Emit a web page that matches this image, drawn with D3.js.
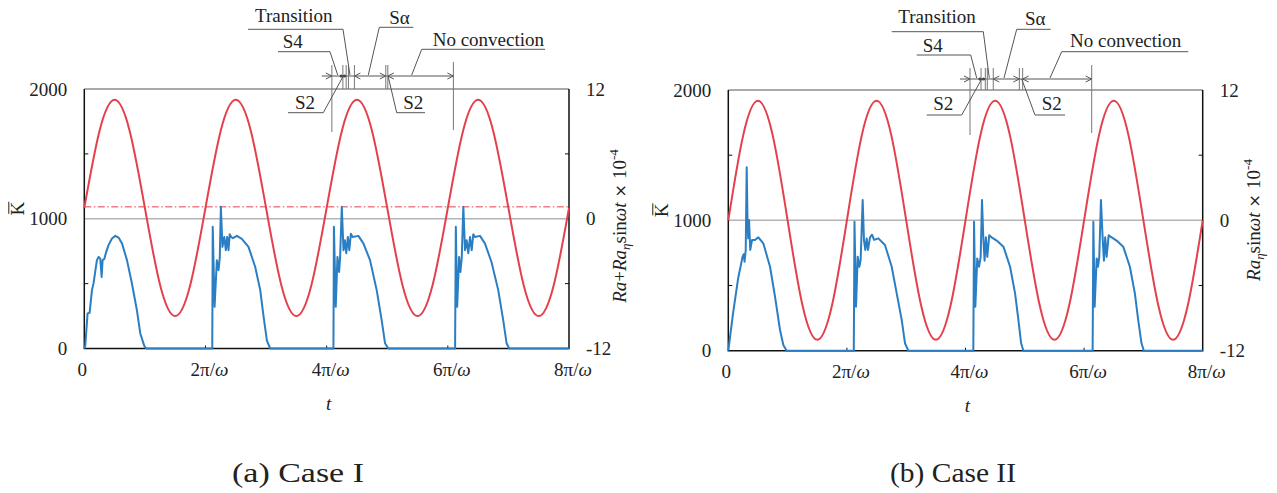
<!DOCTYPE html>
<html>
<head>
<meta charset="utf-8">
<script src="https://cdn.jsdelivr.net/npm/d3@7"></script>
<style>
body { margin: 0; background: #fff; }
svg { display: block; }
svg text { font-family: 'Liberation Serif', 'Times New Roman', 'DejaVu Serif', serif; }
</style>
</head>
<body>
<div id="container"></div>
<script>
// time is in units of the forcing period 2π/ω
const xTicks = [0, 1, 2, 3, 4];
const xTickLabels = ['0', '2π/', '4π/', '6π/', '8π/'];
const kTicks = [0, 1000, 2000];
const kMinor = [500, 1500];
const raTicks = [-12, 0, 12];
const raMinor = [-6, 6];

// Ra + Ra_eta sin(wt), x 1e-4, sampled every 1/8 period
const redCaseI = [1.0, 8.1, 11.0, 8.1, 1.0, -6.1, -9.0, -6.1,
                  1.0, 8.1, 11.0, 8.1, 1.0, -6.1, -9.0, -6.1,
                  1.0, 8.1, 11.0, 8.1, 1.0, -6.1, -9.0, -6.1,
                  1.0, 8.1, 11.0, 8.1, 1.0, -6.1, -9.0, -6.1, 1.0];
const redCaseII = [0, 7.8, 11.0, 7.8, 0, -7.8, -11.0, -7.8,
                   0, 7.8, 11.0, 7.8, 0, -7.8, -11.0, -7.8,
                   0, 7.8, 11.0, 7.8, 0, -7.8, -11.0, -7.8,
                   0, 7.8, 11.0, 7.8, 0, -7.8, -11.0, -7.8, 0];
const dashCaseI = 1.1;

// K-bar, [t, K]
const blueCaseI = [
  [0,0],[0.008,20],[0.027,270],[0.044,275],[0.063,450],[0.076,500],[0.104,681],[0.118,706],
  [0.132,690],[0.143,552],[0.151,681],[0.165,690],[0.181,745],[0.2,797],[0.228,848],[0.256,868],
  [0.283,855],[0.311,810],[0.352,681],[0.393,501],[0.434,295],[0.462,116],[0.495,20],[0.511,0],
  [1.056,0],[1.060,938],[1.075,321],[1.094,681],[1.108,604],[1.118,700],[1.127,1092],[1.14,783],
  [1.155,860],[1.168,758],[1.179,860],[1.19,758],[1.2,880],[1.213,860],[1.226,850],[1.259,868],
  [1.3,845],[1.355,783],[1.41,630],[1.452,450],[1.479,250],[1.507,60],[1.534,0],
  [2.056,0],[2.06,938],[2.075,321],[2.089,706],[2.103,590],[2.111,700],[2.125,1092],[2.139,758],
  [2.15,835],[2.162,735],[2.175,860],[2.187,758],[2.2,885],[2.213,860],[2.262,868],[2.303,810],
  [2.358,681],[2.413,450],[2.454,219],[2.482,40],[2.509,0],
  [3.06,0],[3.066,938],[3.077,321],[3.093,706],[3.104,590],[3.115,700],[3.128,1092],[3.142,758],
  [3.155,835],[3.169,735],[3.183,860],[3.197,758],[3.21,880],[3.224,860],[3.265,868],[3.306,810],
  [3.361,665],[3.416,450],[3.457,219],[3.485,40],[3.507,0],
  [4,0]
];
const blueCaseII = [
  [0,0],[0.042,300],[0.084,560],[0.12,720],[0.13,740],[0.137,683],[0.147,773],[0.155,1407],
  [0.162,1003],[0.168,862],[0.175,1003],[0.185,773],[0.2,849],[0.225,849],[0.253,870],[0.295,824],
  [0.352,644],[0.394,414],[0.436,159],[0.464,44],[0.492,0],
  [1.058,0],[1.064,990],[1.077,338],[1.091,721],[1.105,644],[1.116,700],[1.133,1156],[1.144,849],
  [1.155,773],[1.167,860],[1.178,773],[1.195,870],[1.212,890],[1.229,850],[1.265,862],[1.321,811],
  [1.378,644],[1.42,440],[1.462,236],[1.49,57],[1.518,0],
  [2.066,0],[2.072,990],[2.083,338],[2.099,708],[2.114,644],[2.128,720],[2.139,1156],[2.15,870],
  [2.161,690],[2.172,870],[2.184,720],[2.2,885],[2.22,870],[2.263,845],[2.32,798],[2.376,644],
  [2.418,440],[2.446,236],[2.469,57],[2.488,0],
  [3.072,0],[3.078,990],[3.089,338],[3.106,708],[3.117,644],[3.128,720],[3.142,1156],[3.156,870],
  [3.167,690],[3.178,870],[3.19,720],[3.207,885],[3.232,870],[3.274,845],[3.33,798],[3.386,644],
  [3.428,440],[3.456,236],[3.484,57],[3.504,0],
  [4,0]
];

// regime boundaries (t) for the annotation above each plot
const phasesCaseI = { start: 1.960, long: [2.043, 3.046], short: [2.134, 2.161, 2.180, 2.229, 2.488, 2.505], dots: [2.12, 2.147] };
const phasesCaseII = { start: 1.953, long: [2.038, 3.064], short: [2.131, 2.167, 2.184, 2.234, 2.454, 2.482], dots: [2.122, 2.152] };

const RED = '#e4404c';
const BLUE = '#2a7ec3';
const INK = '#222';
const SERIF = "'Liberation Serif', 'Times New Roman', 'DejaVu Serif', serif";

const svg = d3.select('#container').append('svg')
    .attr('width', 1277)
    .attr('height', 493)
    .attr('font-family', SERIF);

function label(sel) {
    return sel.append('text').attr('font-family', SERIF).attr('font-size', 19).attr('fill', INK);
}

function drawPanel(p) {
    const x = d3.scaleLinear().domain([0, 4]).range([p.left, p.right]);
    const yK = d3.scaleLinear().domain([0, 2000]).range([p.bottom, p.top]);
    const yR = d3.scaleLinear().domain([-12, 12]).range([p.bottom, p.top]);
    const g = svg.append('g');

    // gray line at K = 1000
    g.append('line')
        .attr('x1', p.left).attr('x2', p.right)
        .attr('y1', yK(1000)).attr('y2', yK(1000))
        .attr('stroke', '#b4b4b4').attr('stroke-width', 1.5);

    if (p.dash != null) {
        g.append('line')
            .attr('x1', p.left).attr('x2', p.right)
            .attr('y1', yR(p.dash)).attr('y2', yR(p.dash))
            .attr('stroke', RED).attr('stroke-width', 1)
            .attr('stroke-dasharray', '7,2.5,1.5,2.5');
    }

    // frame
    g.append('line').attr('x1', p.left).attr('x2', p.right).attr('y1', p.top).attr('y2', p.top)
        .attr('stroke', '#555').attr('stroke-width', 1);
    const axes = d3.path();
    axes.moveTo(p.left, p.top); axes.lineTo(p.left, p.bottom); axes.lineTo(p.right, p.bottom); axes.lineTo(p.right, p.top);
    g.append('path').attr('d', axes.toString()).attr('fill', 'none').attr('stroke', '#111').attr('stroke-width', 1.5);

    // inward ticks
    kMinor.forEach(v => g.append('line').attr('x1', p.left).attr('x2', p.left + 4)
        .attr('y1', yK(v)).attr('y2', yK(v)).attr('stroke', '#111'));
    raMinor.forEach(v => g.append('line').attr('x1', p.right).attr('x2', p.right - 4)
        .attr('y1', yR(v)).attr('y2', yR(v)).attr('stroke', '#111'));
    xTicks.slice(1, 4).forEach(v => g.append('line').attr('x1', x(v)).attr('x2', x(v))
        .attr('y1', p.bottom).attr('y2', p.bottom - 3).attr('stroke', '#111'));

    // curves
    const redLine = d3.line()
        .x((d, i) => x(i / 8))
        .y(d => yR(d))
        .curve(d3.curveNatural);
    g.append('path').attr('d', redLine(p.red))
        .attr('fill', 'none').attr('stroke', RED).attr('stroke-width', 2);

    const blueLine = d3.line()
        .x(d => x(d[0]))
        .y(d => yK(d[1]));
    g.append('path').attr('d', blueLine(p.blue))
        .attr('fill', 'none').attr('stroke', BLUE).attr('stroke-width', 2)
        .attr('stroke-linejoin', 'round');

    // tick labels
    kTicks.forEach(v => label(g)
        .attr('x', p.left - 17).attr('y', yK(v)).attr('dy', '0.35em')
        .attr('text-anchor', 'end').text(v));
    raTicks.forEach(v => label(g)
        .attr('x', p.right + 17).attr('y', yR(v)).attr('dy', '0.35em').text(v));
    xTicks.forEach((v, i) => {
        const t = label(g)
            .attr('x', x(v) + (i === 0 ? -2 : 4)).attr('y', p.bottom + 14).attr('dy', '0.7em')
            .attr('text-anchor', 'middle');
        t.append('tspan').text(xTickLabels[i]);
        if (i > 0) t.append('tspan').attr('font-style', 'italic').text('ω');
    });

    // axis titles
    label(g).attr('x', (p.left + p.right) / 2 + 2).attr('y', p.bottom + 61)
        .attr('text-anchor', 'middle').attr('font-style', 'italic').text('t');

    const kt = g.append('g').attr('transform', `translate(${p.left - 60},${yK(1000) - 10}) rotate(-90)`);
    label(kt).attr('text-anchor', 'middle').text('K');
    kt.append('line').attr('x1', -5).attr('x2', 7).attr('y1', -15.5).attr('y2', -15.5)
        .attr('stroke', INK).attr('stroke-width', 1);

    const rt = label(g)
        .attr('transform', `translate(${p.right + 57},${p.rLabelY}) rotate(-90)`)
        .attr('text-anchor', 'middle');
    if (p.withRa) {
        rt.append('tspan').attr('font-style', 'italic').text('Ra');
        rt.append('tspan').text('+');
    }
    rt.append('tspan').attr('font-style', 'italic').text('Ra');
    rt.append('tspan').attr('font-style', 'italic').attr('font-size', 13).attr('dy', 4).text('η');
    rt.append('tspan').attr('dy', -4).text('sin');
    rt.append('tspan').attr('font-style', 'italic').text('ωt');
    rt.append('tspan').attr('font-family', 'DejaVu Sans').attr('font-size', 16).text(' × ');
    rt.append('tspan').text('10');
    rt.append('tspan').attr('font-size', 13).attr('dy', -8).text('-4');

    // regime annotation
    const a = g.append('g').attr('stroke', '#555').attr('fill', 'none').attr('stroke-width', 1);
    const ay = p.arrowY;
    a.append('line').attr('x1', x(p.phases.start)).attr('x2', x(p.phases.long[1]))
        .attr('y1', ay).attr('y2', ay);
    a.append('line').attr('x1', x(p.phases.long[0])).attr('x2', x(p.phases.long[0]))
        .attr('y1', ay - 11).attr('y2', ay + 56).attr('stroke', '#777');
    a.append('line').attr('x1', x(p.phases.long[1])).attr('x2', x(p.phases.long[1]))
        .attr('y1', ay - 14).attr('y2', ay + 54).attr('stroke', '#777');
    p.phases.short.forEach(v => a.append('line').attr('x1', x(v)).attr('x2', x(v))
        .attr('y1', ay - 11).attr('y2', p.top).attr('stroke', '#777'));
    p.phases.dots.forEach(v => g.append('circle').attr('cx', x(v)).attr('cy', ay)
        .attr('r', 1.6).attr('fill', '#444'));
    const heads = [[p.phases.long[0], 1], [p.phases.short[3], -1], [p.phases.short[4], 1],
                   [p.phases.short[5], -1], [p.phases.long[1], 1]];
    heads.forEach(([v, dir]) => {
        const tx = x(v);
        a.append('path').attr('d', `M${tx - dir * 6},${ay - 3}L${tx},${ay}L${tx - dir * 6},${ay + 3}`);
    });

    p.labels.forEach(l => {
        a.append('path').attr('d', `M${l.u0},${l.uy}L${l.u1},${l.uy}M${l.lx},${l.uy}L${l.tx},${l.ty}`);
        label(g).attr('x', l.x).attr('y', l.y).text(l.text);
    });

    // caption
    label(g).attr('x', p.capX).attr('y', 482)
        .attr('text-anchor', 'middle').attr('font-size', 27)
        .attr('textLength', p.capW).attr('lengthAdjust', 'spacingAndGlyphs')
        .text(p.caption);
}

drawPanel({
    left: 84.3, right: 569, top: 89, bottom: 348.5,
    red: redCaseI, blue: blueCaseI, dash: dashCaseI, withRa: true, rLabelY: 226,
    phases: phasesCaseI, arrowY: 76,
    labels: [
        { text: 'Transition', x: 255, y: 22, u0: 248, u1: 343, uy: 29.3, lx: 343, tx: 350, ty: 75 },
        { text: 'S4', x: 282.7, y: 47.7, u0: 278, u1: 330, uy: 51.7, lx: 330, tx: 337.7, ty: 75 },
        { text: 'S2', x: 295, y: 109.3, u0: 288, u1: 323.3, uy: 112.7, lx: 323.3, tx: 343.3, ty: 76 },
        { text: 'Sα', x: 389.3, y: 24, u0: 379.3, u1: 413.3, uy: 27.3, lx: 379.3, tx: 368.3, ty: 75 },
        { text: 'No convection', x: 432.7, y: 45.7, u0: 421.7, u1: 545, uy: 49.3, lx: 421.7, tx: 411.7, ty: 75 },
        { text: 'S2', x: 403.3, y: 109.3, u0: 396.7, u1: 425, uy: 112.7, lx: 396.7, tx: 388.3, ty: 77 }
    ],
    caption: '(a) Case I', capX: 298, capW: 132
});

drawPanel({
    left: 728.3, right: 1202.7, top: 90, bottom: 350.7,
    red: redCaseII, blue: blueCaseII, dash: null, withRa: false, rLabelY: 220,
    phases: phasesCaseII, arrowY: 79,
    labels: [
        { text: 'Transition', x: 898.3, y: 22.7, u0: 891.7, u1: 983.3, uy: 31.7, lx: 983.3, tx: 989.3, ty: 78 },
        { text: 'S4', x: 922.7, y: 51.7, u0: 916.7, u1: 970.7, uy: 55, lx: 970.7, tx: 976.7, ty: 78 },
        { text: 'S2', x: 933.3, y: 110, u0: 926.7, u1: 961.7, uy: 115, lx: 961.7, tx: 981.7, ty: 79 },
        { text: 'Sα', x: 1025, y: 25, u0: 1016.7, u1: 1050.7, uy: 29.3, lx: 1016.7, tx: 1004, ty: 78 },
        { text: 'No convection', x: 1070, y: 46.7, u0: 1061.7, u1: 1188.3, uy: 51.7, lx: 1061.7, tx: 1050, ty: 78 },
        { text: 'S2', x: 1041.7, y: 110, u0: 1035, u1: 1065, uy: 115, lx: 1035, tx: 1021.7, ty: 79 }
    ],
    caption: '(b) Case II', capX: 953, capW: 126
});
</script>
</body>
</html>
